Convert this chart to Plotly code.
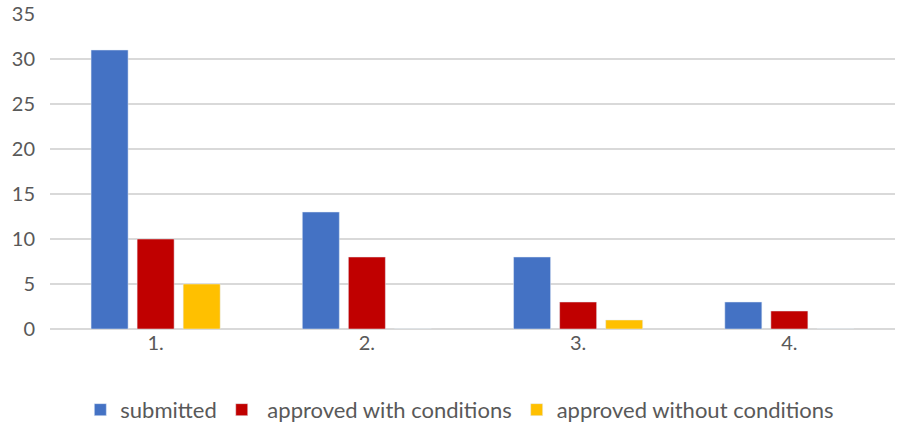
import plotly.graph_objects as go

categories = ["1.", "2.", "3.", "4."]
submitted = [31, 13, 8, 3]
approved_with = [10, 8, 3, 2]
approved_without = [5, 0, 1, 0]
y_ticks = [0, 5, 10, 15, 20, 25, 30, 35]

fig = go.Figure()
fig.add_bar(x=categories, y=submitted, name="submitted", marker_color="#4472C4")
fig.add_bar(x=categories, y=approved_with, name=" approved with conditions", marker_color="#C00000")
fig.add_bar(x=categories, y=approved_without, name="approved without conditions", marker_color="#FFC000")

fig.update_layout(
    width=897, height=424,
    margin=dict(l=50, r=2, t=14, b=95, autoexpand=False),
    plot_bgcolor="white", paper_bgcolor="white",
    barmode="group", bargap=0.346, bargroupgap=0.196,
    font=dict(family="Lato, Open Sans, sans-serif", size=20, color="#595959"),
    xaxis=dict(showgrid=False, showline=False, ticks="", tickfont=dict(size=20),
               ticklabelstandoff=0),
    yaxis=dict(range=[0, 35], tickvals=y_ticks, showgrid=True, gridcolor="#D9D9D9",
               gridwidth=1.5, zeroline=True, zerolinecolor="#D9D9D9", zerolinewidth=1.5,
               ticks="", tickfont=dict(size=20), ticklabelstandoff=14),
    legend=dict(orientation="h", x=0.485, xanchor="center", y=-0.19, yanchor="top",
                font=dict(size=22), itemwidth=30, traceorder="normal"),
    showlegend=True,
)

fig.write_html("out.html")
